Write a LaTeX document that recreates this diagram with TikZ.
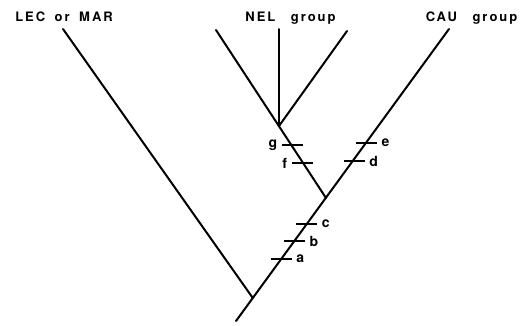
\documentclass[tikz,border=0pt]{standalone}
\usepackage{fontspec}
\setmainfont{TeX Gyre Heros}
\newfontfamily\grpfont[LetterSpace=15]{TeX Gyre Heros}
\usetikzlibrary{positioning}

\begin{document}
\begin{tikzpicture}[
  x=1pt, y=-1pt,
  every node/.style={font=\bfseries},
  branch/.style={line width=2pt, line cap=round},
  tickmark/.style={line width=1.2pt},
  grouplabel/.style={anchor=base, font=\grpfont\bfseries\fontsize{13}{15}\selectfont},
  charlabel/.style={font=\bfseries\fontsize{14}{16}\selectfont, inner sep=1pt},
]
  \useasboundingbox (0,0) rectangle (528,325);

  % Tips and junctions
  \coordinate (root) at (236,321);
  \coordinate (lec) at (63,29);
  \coordinate (cau) at (449,29);
  \coordinate (basej) at (252.8,298);
  \coordinate (nelj) at (326,198);
  \coordinate (nelc) at (279,126);
  \coordinate (nelA) at (216,30);
  \coordinate (nelB) at (279,29);
  \coordinate (nelC) at (347,31);

  % Group labels
  \node[grouplabel] (lablec) at (64,21.5) {LEC\hspace{4pt} or\hspace{4pt} MAR};
  \node[grouplabel] (labnel) at (290.5,21.5) {NEL\hspace{10pt} group};
  \node[grouplabel] (labcau) at (471.5,21.5) {CAU\hspace{10pt} group};

  % Branches
  \draw[branch] (root) -- (cau);
  \draw[branch] (basej) -- (lec);
  \draw[branch] (nelj) -- (nelA);
  \draw[branch] (nelc) -- (nelB);
  \draw[branch] (nelc) -- (nelC);

  % Character marks
  \coordinate (ma) at (281.2,259);
  \coordinate (mb) at (294.4,241);
  \coordinate (mc) at (306.8,224);
  \coordinate (md) at (354.2,161);
  \coordinate (me) at (366.6,143);
  \coordinate (mf) at (302.1,163);
  \coordinate (mg) at (292.3,145);

  \foreach \m/\t in {ma/a, mb/b, mc/c, md/d, me/e}{
    \draw[tickmark] ([xshift=-10.5pt]\m) -- ([xshift=10.5pt]\m)
      node[charlabel, right=3pt] (l\t) {\t};
  }
  \foreach \m/\t in {mf/f, mg/g}{
    \draw[tickmark] ([xshift=10.5pt]\m) -- ([xshift=-10.5pt]\m)
      node[charlabel, left=3pt] (l\t) {\t};
  }
\end{tikzpicture}
\end{document}
